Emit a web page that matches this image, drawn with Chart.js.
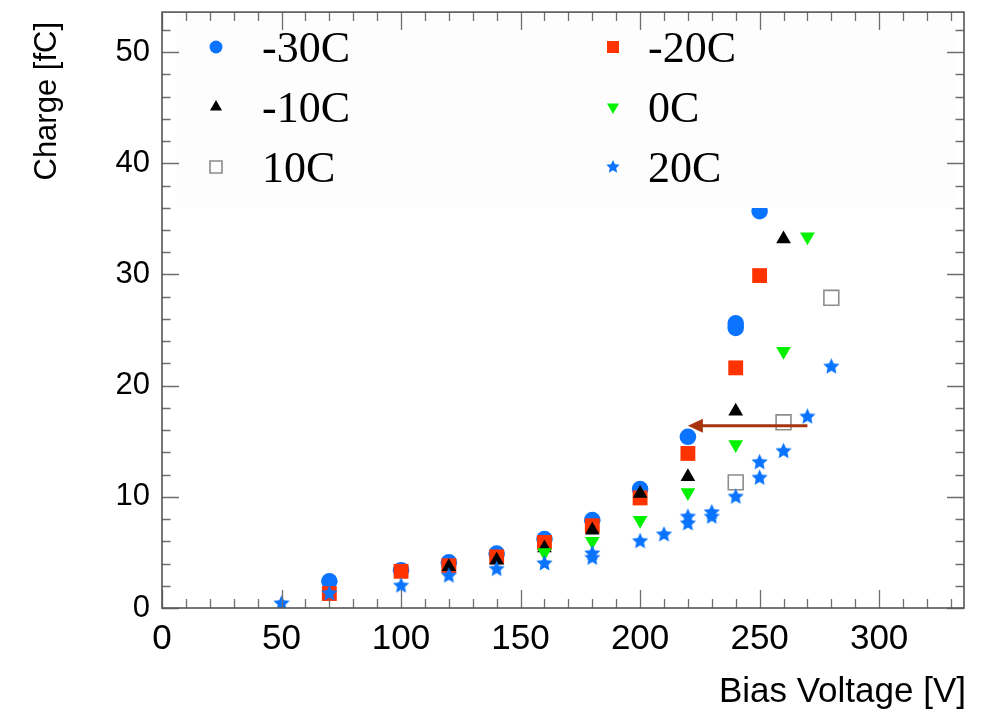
<!DOCTYPE html>
<html><head><meta charset="utf-8">
<script src="https://cdn.jsdelivr.net/npm/chart.js@4.4.0/dist/chart.umd.min.js"></script>
<style>html,body{margin:0;padding:0;background:#fff;}canvas{display:block}</style>
</head><body>
<canvas id="c" width="987" height="711"></canvas>
<script>
// ---- data ----
const seriesLabels = ['-30C', '-20C', '-10C', '0C', '10C', '20C'];
const xM30 = [70, 100, 120, 140, 160, 180, 200, 220, 240, 240, 250];
const qM30 = [2.4, 3.4, 4.1, 4.9, 6.2, 7.9, 10.7, 15.4, 25.2, 25.6, 35.7];
const xM20 = [70, 100, 120, 140, 160, 180, 200, 220, 240, 250];
const qM20 = [1.3, 3.3, 3.8, 4.6, 5.9, 7.4, 9.9, 13.9, 21.6, 29.9];
const xM10 = [120, 140, 160, 180, 200, 220, 240, 260];
const qM10 = [3.7, 4.3, 5.4, 7.0, 10.3, 11.8, 17.7, 33.2];
const x0C = [160, 180, 200, 220, 240, 260, 270];
const q0C = [5.0, 6.0, 7.9, 10.4, 14.7, 23.1, 33.4];
const x10C = [240, 260, 280];
const q10C = [11.3, 16.7, 27.9];
const x20C = [50, 70, 100, 120, 140, 160, 180, 180, 200, 210, 220, 220, 230, 230, 240, 250, 250, 260, 270, 280];
const q20C = [0.4, 1.3, 2.0, 2.9, 3.5, 4.0, 4.9, 4.5, 6.0, 6.6, 8.2, 7.6, 8.6, 8.2, 10.0, 13.1, 11.7, 14.1, 17.2, 21.7];
const xTicks = [0, 50, 100, 150, 200, 250, 300];
const yTicks = [0, 10, 20, 30, 40, 50];
const xRange = [0, 335.5];
const yRange = [0, 53.6];
const arrowFrom = [270, 16.4];
const arrowTo = [220, 16.4];
const xTitle = 'Bias Voltage [V]';
const yTitle = 'Charge [fC]';

// ---- styles ----
const BLUE = '#0a73ff', RED = '#ff3300', GREEN = '#00f200', BLACK = '#000000', GRAY = '#8c8c8c';
function makeStar(r, color) {
  const s = Math.ceil(r * 2 + 4);
  const c = document.createElement('canvas');
  c.width = s; c.height = s;
  const g = c.getContext('2d');
  g.fillStyle = color;
  g.beginPath();
  for (let i = 0; i < 10; i++) {
    const a = -Math.PI / 2 + i * Math.PI / 5;
    const rr = (i % 2) ? r * 0.48 : r;
    g.lineTo(s / 2 + rr * Math.cos(a), s / 2 + rr * Math.sin(a));
  }
  g.closePath(); g.fill();
  return c;
}
const starBig = makeStar(8.5, BLUE);
const starSmall = makeStar(7, BLUE);

function pts(xs, ys) { return xs.map((x, i) => ({x: x, y: ys[i]})); }

const styles = [
  {pointStyle: 'circle', radius: 8.3, bg: BLUE, border: BLUE, bw: 0, rot: 0, lr: 6.5},
  {pointStyle: 'rect', radius: 10.5, bg: RED, border: RED, bw: 0, rot: 0, lr: 8.5},
  {pointStyle: 'triangle', radius: 8.5, bg: BLACK, border: BLACK, bw: 0, rot: 0, lr: 7},
  {pointStyle: 'triangle', radius: 8.5, bg: GREEN, border: GREEN, bw: 0, rot: 180, lr: 7},
  {pointStyle: 'rect', radius: 10.5, bg: 'rgba(0,0,0,0)', border: GRAY, bw: 1.6, rot: 0, lr: 8.5},
  {pointStyle: starBig, radius: 9, bg: BLUE, border: BLUE, bw: 0, rot: 0, lr: 7, legendImg: starSmall}
];
const xs = [xM30, xM20, xM10, x0C, x10C, x20C];
const qs = [qM30, qM20, qM10, q0C, q10C, q20C];

const datasets = seriesLabels.map((lab, i) => ({
  label: lab,
  data: pts(xs[i], qs[i]),
  showLine: false,
  pointStyle: styles[i].pointStyle,
  pointRadius: styles[i].radius,
  pointHoverRadius: styles[i].radius,
  pointRotation: styles[i].rot,
  pointBackgroundColor: styles[i].bg,
  pointBorderColor: styles[i].border,
  pointBorderWidth: styles[i].bw,
  order: seriesLabels.length - i
}));

const framePlugin = {
  id: 'frame',
  afterDatasetsDraw(chart) {
    const ctx = chart.ctx, a = chart.chartArea;
    const sx = chart.scales.x, sy = chart.scales.y;
    ctx.save();
    // arrow
    const x1 = sx.getPixelForValue(arrowFrom[0]), y1 = sy.getPixelForValue(arrowFrom[1]);
    const x2 = sx.getPixelForValue(arrowTo[0]), y2 = sy.getPixelForValue(arrowTo[1]);
    ctx.strokeStyle = '#a8340f'; ctx.fillStyle = '#a8340f'; ctx.lineWidth = 3;
    ctx.beginPath(); ctx.moveTo(x1, y1); ctx.lineTo(x2 + 12, y2); ctx.stroke();
    ctx.beginPath(); ctx.moveTo(x2, y2); ctx.lineTo(x2 + 15, y2 - 7); ctx.lineTo(x2 + 15, y2 + 7); ctx.closePath(); ctx.fill();

    // legend box (opaque, very faint)
    ctx.fillStyle = '#fdfdfd';
    ctx.fillRect(176, 14, 780, 194);

    // ticks
    ctx.strokeStyle = '#6e6e6e'; ctx.lineWidth = 1.3;
    ctx.beginPath();
    for (let v = xRange[0]; v <= xRange[1] + 1e-6; v += 10) {
      const px = Math.round(sx.getPixelForValue(v)) + 0.5;
      const len = (Math.abs(v % 50) < 1e-6) ? 18 : 9;
      ctx.moveTo(px, a.bottom); ctx.lineTo(px, a.bottom - len);
      ctx.moveTo(px, a.top); ctx.lineTo(px, a.top + len);
    }
    for (let v = yRange[0]; v <= yRange[1] + 1e-6; v += 2) {
      const py = Math.round(sy.getPixelForValue(v)) + 0.5;
      const len = (Math.abs(v % 10) < 1e-6) ? 17 : 8.5;
      ctx.moveTo(a.left, py); ctx.lineTo(a.left + len, py);
      ctx.moveTo(a.right, py); ctx.lineTo(a.right - len, py);
    }
    ctx.stroke();
    ctx.strokeStyle = '#555'; ctx.lineWidth = 1.6;
    ctx.strokeRect(a.left, a.top, a.right - a.left, a.bottom - a.top);

    // titles
    ctx.fillStyle = '#000';
    ctx.font = '35px "Liberation Sans", Arial, sans-serif';
    ctx.textAlign = 'right'; ctx.textBaseline = 'middle';
    ctx.fillText(xTitle, a.right + 2, 692);
    ctx.save();
    ctx.translate(47, 22);
    ctx.rotate(-Math.PI / 2);
    ctx.font = '31px "Liberation Sans", Arial, sans-serif';
    ctx.textAlign = 'right'; ctx.textBaseline = 'middle';
    ctx.fillText(yTitle, 0, 0);
    ctx.restore();

    // legend entries
    const colX = [216, 613], colT = [262, 648], rowY = [47, 107, 167];
    for (let i = 0; i < seriesLabels.length; i++) {
      const col = i % 2, row = Math.floor(i / 2);
      const s = styles[i];
      ctx.fillStyle = s.bg; ctx.strokeStyle = s.border; ctx.lineWidth = s.bw;
      Chart.helpers.drawPoint(ctx, {pointStyle: s.legendImg || s.pointStyle, radius: s.lr, rotation: s.rot, borderWidth: s.bw}, colX[col], rowY[row]);
      ctx.fillStyle = '#000';
      ctx.font = '44px "Liberation Serif", "Times New Roman", serif';
      ctx.textAlign = 'left'; ctx.textBaseline = 'middle';
      ctx.fillText(seriesLabels[i], colT[col], rowY[row] + 3);
    }
    ctx.restore();
  }
};

new Chart(document.getElementById('c'), {
  type: 'scatter',
  data: {datasets: datasets},
  options: {
    responsive: false, animation: false, devicePixelRatio: 1,
    layout: {padding: {top: 9, right: 23, left: 0, bottom: 0}},
    plugins: {legend: {display: false}, tooltip: {enabled: false}},
    scales: {
      x: {
        type: 'linear', min: xRange[0], max: xRange[1],
        afterBuildTicks: s => { s.ticks = xTicks.map(v => ({value: v})); },
        afterFit: s => { s.height = 103; s.paddingLeft = 0; s.paddingRight = 0; },
        grid: {display: false, drawTicks: false},
        border: {display: false},
        ticks: {padding: 10, color: '#000', font: {family: '"Liberation Sans", Arial', size: 35}, maxRotation: 0, autoSkip: false}
      },
      y: {
        type: 'linear', min: yRange[0], max: yRange[1],
        afterBuildTicks: s => { s.ticks = yTicks.map(v => ({value: v})); },
        afterFit: s => { s.width = 162; s.paddingTop = 0; s.paddingBottom = 0; },
        grid: {display: false, drawTicks: false},
        border: {display: false},
        ticks: {padding: 12, color: '#000', font: {family: '"Liberation Sans", Arial', size: 31}, autoSkip: false}
      }
    }
  },
  plugins: [framePlugin]
});
</script>
</body></html>
